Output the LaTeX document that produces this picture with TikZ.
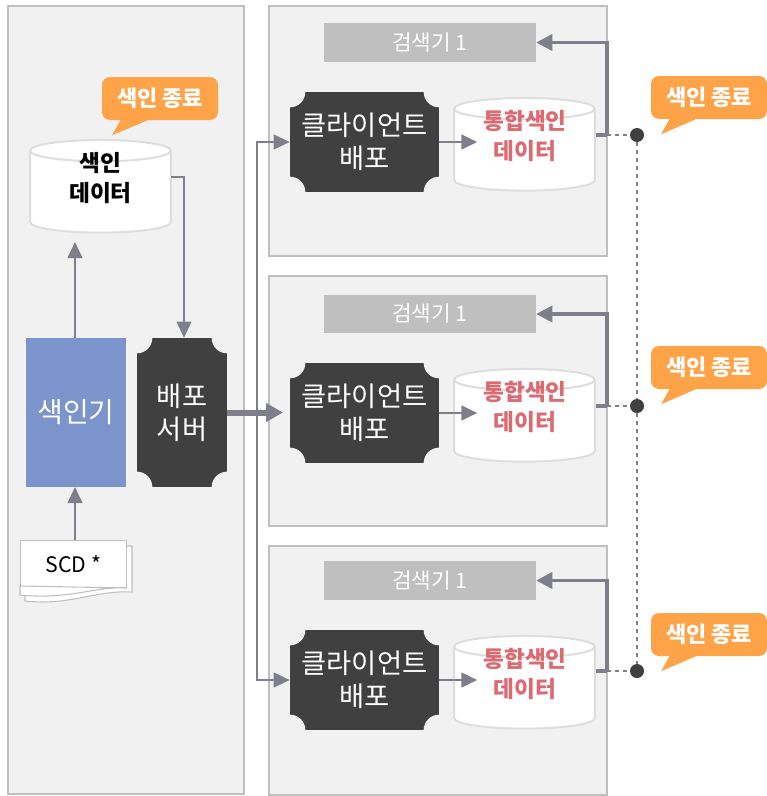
\documentclass[tikz,border=0pt]{standalone}
\usepackage{xcolor}
\usepackage{fontspec}
\setmainfont{Noto Sans CJK KR}
\usetikzlibrary{shapes.geometric}
\usetikzlibrary{arrows.meta}
\usetikzlibrary{positioning}
\definecolor{panelgray}{HTML}{F1F1F1}
\definecolor{edgegray}{HTML}{BFBFBF}
\definecolor{linkgray}{HTML}{7F7F8C}
\definecolor{plaquedark}{HTML}{404040}
\definecolor{noteorange}{HTML}{FFA348}
\definecolor{indexblue}{HTML}{7B94CC}
\definecolor{storered}{HTML}{DB6A72}

\begin{document}
\begin{tikzpicture}[x=0.75pt,y=-0.75pt]
\tikzset{
    panel/.style    = {draw=edgegray, fill=panelgray, line width=1.5pt},
    titlebar/.style = {rectangle, fill=edgegray, text=white, minimum width=159pt, minimum height=29pt, font=\fontsize{16}{20}\selectfont},
    plaque/.style   = {rectangle, fill=plaquedark, text=white, align=center, font=\fontsize{20.5}{25}\selectfont,
                       path picture={\fill[panelgray] (path picture bounding box.north west) circle (11.5pt)
                                                      (path picture bounding box.north east) circle (11.5pt)
                                                      (path picture bounding box.south west) circle (11.5pt)
                                                      (path picture bounding box.south east) circle (11.5pt);}},
    client/.style   = {plaque, minimum width=111.75pt, minimum height=75pt},
    store/.style    = {cylinder, shape border rotate=90, shape aspect=2.4, draw=black!13, line width=1.5pt, fill=white, minimum width=105.5pt, minimum height=69.5pt},
    storetext/.style= {align=center, inner sep=0pt, font=\bfseries\fontsize{17}{22.5}\selectfont},
    note/.style     = {rectangle, rounded corners=6pt, fill=noteorange, text=white, minimum width=87pt, minimum height=32.25pt, inner sep=0pt, font=\bfseries\fontsize{16.5}{20}\selectfont},
    tail/.style     = {fill=noteorange},
    dot/.style      = {circle, fill=plaquedark, minimum size=10.5pt, inner sep=0pt},
    link/.style     = {draw=linkgray, line width=1.1pt, -{Triangle[length=12pt,width=11pt]}},
    boldlink/.style = {draw=linkgray, line width=2.6pt, -{Triangle[length=12pt,width=12pt]}},
    plainlink/.style= {draw=linkgray, line width=2.6pt},
    dashlink/.style = {draw=linkgray, line width=1.1pt, dashed}
}
\useasboundingbox (0,0) rectangle (767,796);

\draw [panel] (8,6) rectangle (244,794);
\draw [panel] (269,6) rectangle (607,256);
\draw [panel] (269,276) rectangle (607,526);
\draw [panel] (269,546) rectangle (607,795);

\node [rectangle, fill=indexblue, text=white, minimum width=75pt, minimum height=111.75pt, font=\fontsize{21}{25}\selectfont] (indexer) at (76,412.5) {색인기};
\node [plaque, minimum width=67.5pt, minimum height=111.75pt] (server) at (182,412.5) {배포\\서버};
\node [store] (indexdata) at (100.5,194) {};
\node [storetext, text=black] (indexdatatext) at (100.5,178) {색인\\데이터};

\fill [white, draw=black!25, line width=0.8pt] (25,546) -- (132,546) -- (132,592) .. controls (95,590) and (70,606) .. (25,601) -- cycle;
\node [rectangle, fill=white, draw=black!25, line width=0.8pt, minimum width=80pt, minimum height=35pt, inner sep=0pt, font=\fontsize{16}{20}\selectfont] (scd) at (73.5,564) {SCD *};
\fill [white, draw=black!25, line width=0.8pt] (20,586) -- (127,588) .. controls (95,586) and (70,600) .. (20,595) -- cycle;

\node [titlebar] (title1) at (430,42.5) {검색기 1};
\node [titlebar] (title2) at (430,314) {검색기 1};
\node [titlebar] (title3) at (430,580.5) {검색기 1};

\node [client] (client1) at (364.5,142) {클라이언트\\배포};
\node [client] (client2) at (364.5,413) {클라이언트\\배포};
\node [client] (client3) at (364.5,680) {클라이언트\\배포};

\node [store] (store1) at (524.5,152) {};
\node [store] (store2) at (524.5,423) {};
\node [store] (store3) at (524.5,690) {};

\node [dot] (dot1) at (637,135) {};
\node [dot] (dot2) at (637,406) {};
\node [dot] (dot3) at (637,671) {};

\coordinate (bend1) at (607,135);
\coordinate (bend2) at (607,406);
\coordinate (bend3) at (607,671);

\draw [dashlink] (bend1) -- (dot1);
\draw [dashlink] (bend2) -- (dot2);
\draw [dashlink] (bend3) -- (dot3);
\draw [dashlink] (dot1) -- (dot2);
\draw [dashlink] (dot2) -- (dot3);

\draw [plainlink] (store1.east |- bend1) -- (bend1);
\draw [plainlink] (store2.east |- bend2) -- (bend2);
\draw [plainlink] (store3.east |- bend3) -- (bend3);
\draw [boldlink] (bend1) |- (title1.east);
\draw [boldlink] (bend2) |- (title2.east);
\draw [boldlink] (bend3) |- (title3.east);

\draw [link, line width=2pt] (client1.east) -- ++(38,0);
\draw [link, line width=2pt] (client2.east) -- ++(38,0);
\draw [link, line width=2pt] (client3.east) -- ++(38,0);

\node [storetext, text=storered] (storetext1) at (525,136) {통합색인\\데이터};
\node [storetext, text=storered] (storetext2) at (525,407) {통합색인\\데이터};
\node [storetext, text=storered] (storetext3) at (525,674) {통합색인\\데이터};

\coordinate (fork) at (257,412.5);
\draw [link, line width=1.5pt] (fork) |- (client1.west);
\draw [link, line width=1.5pt] (fork) |- (client3.west);
\draw [draw=linkgray, line width=4.5pt, -{Triangle[length=12.75pt,width=13.5pt]}] (server.east) -- (283,412.5);

\draw [link, line width=1.5pt] (indexer.north -| 75,0) -- (75,242);
\draw [link, line width=1.5pt] (scd.north -| 75,0) -- (75,487);
\coordinate (indexout) at (184,177);
\draw [link] (171,177) -- (indexout) -- (server.north -| indexout);

\node [note] (note0) at (160,98.5) {색인 종료};
\node [note] (note1) at (709,97.5) {색인 종료};
\node [note] (note2) at (709,367.5) {색인 종료};
\node [note] (note3) at (709,634.5) {색인 종료};

\fill [tail] (note0.south) ++(-39,-1) -- ++(-9,16) -- ++(38,-16) -- cycle;
\fill [tail] (note1.south) ++(-39,-1) -- ++(-9,16) -- ++(37,-16) -- cycle;
\fill [tail] (note2.south) ++(-39,-1) -- ++(-9,16) -- ++(37,-16) -- cycle;
\fill [tail] (note3.south) ++(-39,-1) -- ++(-9,16) -- ++(37,-16) -- cycle;
\end{tikzpicture}
\end{document}
